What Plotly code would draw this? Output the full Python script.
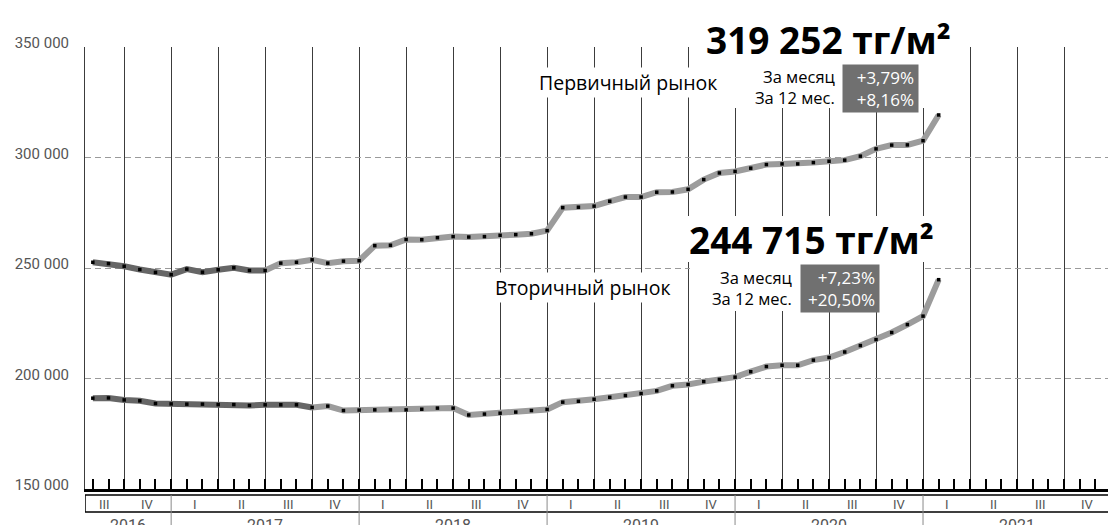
import plotly.graph_objects as go
import pandas as pd

# ---------------- data ----------------
months = pd.period_range("2016-07", "2021-01", freq="M")
t = [(p.year - 2016) * 12 + p.month for p in months]

primary = [252600, 252000, 250800, 249300, 248000, 247000, 249500, 248100, 249200, 250100, 248900, 248900,
           252200, 252600, 253700, 252200, 253100, 253300, 260100, 260300, 262900, 262800, 263700, 264200,
           264000, 264200, 264800, 265100, 265500, 266900, 277300, 277500, 278000, 280200, 282100, 282100,
           284300, 284400, 285600, 290000, 293000, 293700, 295166, 296800, 297100, 297100, 297700, 298300,
           298800, 300600, 303900, 305600, 305700, 307592, 319252]

secondary = [191100, 191200, 190300, 189900, 188700, 188500, 188400, 188400, 188200, 188200, 187800, 188100,
             188100, 188100, 186900, 187500, 185500, 185700, 185800, 185800, 185800, 186100, 186600, 186600,
             183500, 183900, 184300, 184800, 185500, 186000, 189300, 189700, 190600, 191500, 192300, 193200,
             194400, 196700, 197300, 198600, 199600, 200600, 203083, 205400, 206000, 206000, 208300, 209500,
             212000, 214900, 217600, 220800, 224400, 228215, 244715]

y_ticks = [150000, 200000, 250000, 300000, 350000]
y_tick_text = ["150 000", "200 000", "250 000", "300 000", "350 000"]

quarter_labels = ["III", "IV"] + ["I", "II", "III", "IV"] * 5
year_labels = ["2016", "2017", "2018", "2019", "2020", "2021"]

primary_label = "Первичный рынок"
secondary_label = "Вторичный рынок"
primary_price = "319 252 тг/м²"
secondary_price = "244 715 тг/м²"
primary_changes = ["+3,79%", "+8,16%"]
secondary_changes = ["+7,23%", "+20,50%"]
change_names = ["За месяц", "За 12 мес."]

# ---------------- geometry ----------------
# the page body has an 8px default margin, so the figure is placed 8px right/down
OFF = 8
W, H = 1116, 525
PL, PT, PW, PH = 85, 47, 1026, 442          # plot area in page pixels
ML, MT = PL - OFF, PT - OFF
MR, MB = W - ML - PW, H - MT - PH
X0, X1 = 6.5, 72


def px(x):
    return (x - PL) / PW


def py(y):
    return (PT + PH - y) / PH


DARK = "#666666"
LIGHT = "#9c9c9c"

fig = go.Figure()
for vals, split in ((primary, 12), (secondary, 15)):
    fig.add_trace(go.Scatter(x=t[:split], y=vals[:split], mode="lines",
                             line=dict(color=DARK, width=6), hoverinfo="skip"))
    fig.add_trace(go.Scatter(x=t[split - 1:], y=vals[split - 1:], mode="lines",
                             line=dict(color=LIGHT, width=6), hoverinfo="skip"))
    fig.add_trace(go.Scatter(x=t, y=vals, mode="markers",
                             marker=dict(symbol="square", size=3.5, color="black", line=dict(width=0))))

shapes = []
annotations = []

# white backgrounds behind the text blocks
for (xa, xb, ya, yb) in ((690, 967, 12, 108), (687, 936, 216, 262), (690, 921, 260, 311)):
    shapes.append(dict(type="rect", xref="paper", yref="paper", x0=px(xa), x1=px(xb),
                       y0=py(yb), y1=py(ya), fillcolor="white", line=dict(width=0), layer="above"))

# bottom quarter box
shapes.append(dict(type="rect", xref="x", x0=X0, x1=X1, yref="paper", ysizemode="pixel",
                   yanchor=0, y0=-6, y1=-23, line=dict(color="black", width=1.5)))
# year dividers
for i in range(1, len(year_labels)):
    xv = 12 * i
    shapes.append(dict(type="line", xref="x", x0=xv, x1=xv, yref="paper", ysizemode="pixel",
                       yanchor=0, y0=-6, y1=-40, line=dict(color="#8a8a8a", width=1)))

# quarter labels
for k, q in enumerate(quarter_labels):
    a = max(6 + 3 * k, X0)
    b = 9 + 3 * k
    annotations.append(dict(x=(a + b) / 2, y=0, xref="x", yref="paper", yshift=-15.5,
                            text=q, showarrow=False, yanchor="middle",
                            font=dict(family="Roboto", size=13, color="#555555")))
# year labels
for i, yl in enumerate(year_labels):
    a = max(12 * i, X0)
    b = 12 * (i + 1)
    annotations.append(dict(x=(a + b) / 2, y=0, xref="x", yref="paper", yshift=-36,
                            text=yl, showarrow=False, yanchor="middle",
                            font=dict(family="Roboto", size=16, color="#555555")))

# price titles
for txt, cx, cy in ((primary_price, 828, 39), (secondary_price, 811, 239)):
    annotations.append(dict(x=px(cx), y=py(cy), xref="paper", yref="paper", text="<b>" + txt + "</b>",
                            showarrow=False, xanchor="center", yanchor="middle",
                            font=dict(family="Open Sans", size=37, color="black")))

# market labels
for txt, cx, cy in ((primary_label, 628, 82), (secondary_label, 583, 287)):
    annotations.append(dict(x=px(cx), y=py(cy), xref="paper", yref="paper", text=txt,
                            showarrow=False, xanchor="center", yanchor="middle", bgcolor="white",
                            font=dict(family="Open Sans", size=19.5, color="black")))

# change names
for rx, cy in ((837, 87), (794, 288)):
    annotations.append(dict(x=px(rx), y=py(cy), xref="paper", yref="paper",
                            text="<br>".join(change_names), align="right",
                            showarrow=False, xanchor="right", yanchor="middle",
                            font=dict(family="Open Sans", size=16.5, color="black")))

# change values in grey boxes
for vals, lx, ty, w in ((primary_changes, 842, 64, 67), (secondary_changes, 800, 264, 70)):
    annotations.append(dict(x=px(lx), y=py(ty), xref="paper", yref="paper",
                            text="<br>".join(vals), align="right", width=w, height=39, borderpad=4,
                            showarrow=False, xanchor="left", yanchor="top", bgcolor="#707070",
                            font=dict(family="Open Sans", size=17, color="white")))

fig.update_layout(
    width=W, height=H,
    margin=dict(l=ML, r=MR, t=MT, b=MB, autoexpand=False),
    paper_bgcolor="white", plot_bgcolor="white",
    showlegend=False,
    font=dict(family="Open Sans"),
    xaxis=dict(range=[X0, X1], tick0=0, dtick=3, showgrid=True, gridcolor="#3c3c3c", gridwidth=1,
               ticks="inside", ticklen=10, tickwidth=1.5, tickcolor="black", showticklabels=False,
               showline=True, linecolor="black", linewidth=3, zeroline=False,
               minor=dict(tick0=0, dtick=1, ticks="inside", ticklen=10, tickwidth=1.5,
                          tickcolor="black", showgrid=False)),
    yaxis=dict(range=[150000, 350000], tickvals=y_ticks, ticktext=y_tick_text,
               showgrid=True, gridcolor="#9a9a9a", gridwidth=1, griddash="6px,4px",
               zeroline=False, showline=True, linecolor="#3c3c3c", linewidth=1,
               ticks="", ticklabelstandoff=12, ticklabelshift=-4,
               tickfont=dict(family="Roboto", size=15, color="#555555")),
    shapes=shapes,
    annotations=annotations,
)

fig.write_html("out.html")
